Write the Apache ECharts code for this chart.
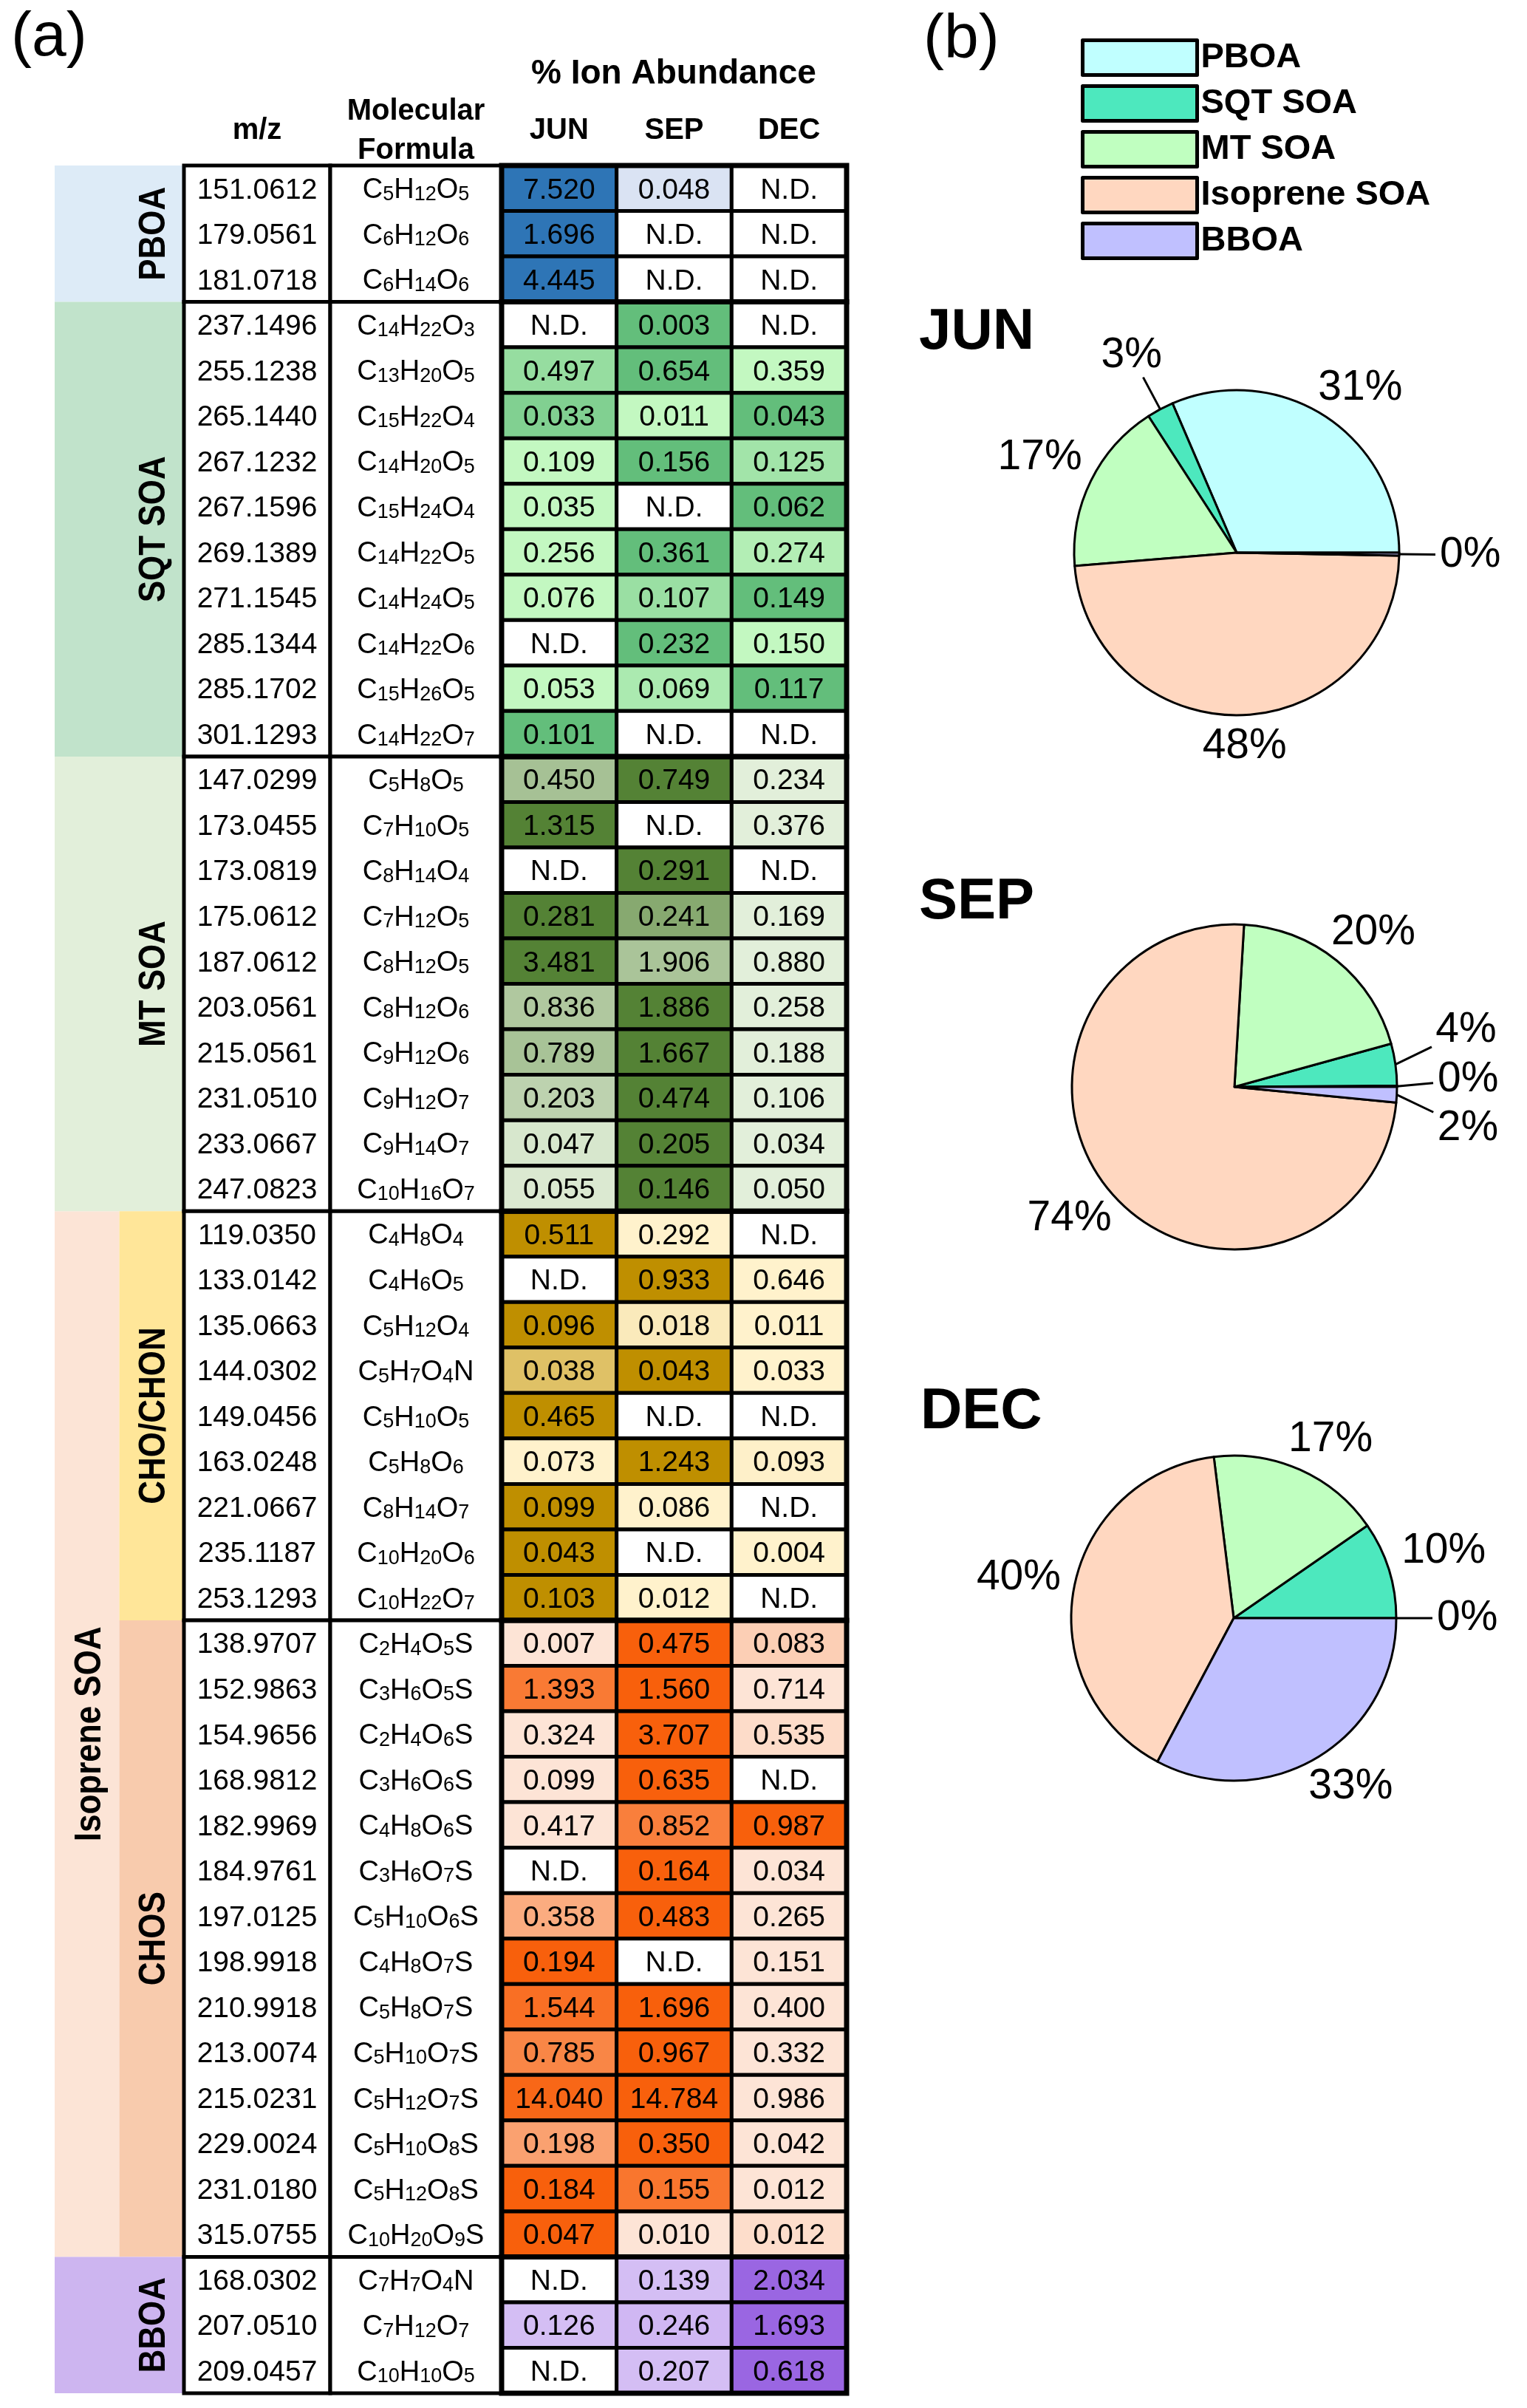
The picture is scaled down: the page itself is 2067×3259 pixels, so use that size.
<!DOCTYPE html>
<html>
<head>
<meta charset="utf-8">
<script src="https://cdn.jsdelivr.net/npm/echarts@6/dist/echarts.min.js"></script>
<style>html,body{margin:0;padding:0;background:#fff}#c{width:2067px;height:3259px}</style>
</head>
<body>
<div id="c"></div>
<script>
const FONT = '"Liberation Sans", Arial, Helvetica, sans-serif';

// ---------------- data ----------------
const groupNames = ['PBOA', 'SQT SOA', 'MT SOA', 'CHO/CHON', 'CHOS', 'BBOA'];
const groupSizes = [3, 10, 10, 9, 14, 3];
const parentName = 'Isoprene SOA';
const parentMembers = ['CHO/CHON', 'CHOS'];
const months = ['JUN', 'SEP', 'DEC'];
const sources = ['PBOA', 'SQT SOA', 'MT SOA', 'Isoprene SOA', 'BBOA'];
const sourceOfGroup = {'PBOA': 'PBOA', 'SQT SOA': 'SQT SOA', 'MT SOA': 'MT SOA', 'CHO/CHON': 'Isoprene SOA', 'CHOS': 'Isoprene SOA', 'BBOA': 'BBOA'};

const mz = [
  '151.0612', '179.0561', '181.0718',
  '237.1496', '255.1238', '265.1440', '267.1232', '267.1596', '269.1389', '271.1545', '285.1344', '285.1702', '301.1293',
  '147.0299', '173.0455', '173.0819', '175.0612', '187.0612', '203.0561', '215.0561', '231.0510', '233.0667', '247.0823',
  '119.0350', '133.0142', '135.0663', '144.0302', '149.0456', '163.0248', '221.0667', '235.1187', '253.1293',
  '138.9707', '152.9863', '154.9656', '168.9812', '182.9969', '184.9761', '197.0125', '198.9918', '210.9918', '213.0074', '215.0231', '229.0024', '231.0180', '315.0755',
  '168.0302', '207.0510', '209.0457'
];
const formula = [
  'C5H12O5', 'C6H12O6', 'C6H14O6',
  'C14H22O3', 'C13H20O5', 'C15H22O4', 'C14H20O5', 'C15H24O4', 'C14H22O5', 'C14H24O5', 'C14H22O6', 'C15H26O5', 'C14H22O7',
  'C5H8O5', 'C7H10O5', 'C8H14O4', 'C7H12O5', 'C8H12O5', 'C8H12O6', 'C9H12O6', 'C9H12O7', 'C9H14O7', 'C10H16O7',
  'C4H8O4', 'C4H6O5', 'C5H12O4', 'C5H7O4N', 'C5H10O5', 'C5H8O6', 'C8H14O7', 'C10H20O6', 'C10H22O7',
  'C2H4O5S', 'C3H6O5S', 'C2H4O6S', 'C3H6O6S', 'C4H8O6S', 'C3H6O7S', 'C5H10O6S', 'C4H8O7S', 'C5H8O7S', 'C5H10O7S', 'C5H12O7S', 'C5H10O8S', 'C5H12O8S', 'C10H20O9S',
  'C7H7O4N', 'C7H12O7', 'C10H10O5'
];
// null = N.D.
const jun = [
  7.520, 1.696, 4.445,
  null, 0.497, 0.033, 0.109, 0.035, 0.256, 0.076, null, 0.053, 0.101,
  0.450, 1.315, null, 0.281, 3.481, 0.836, 0.789, 0.203, 0.047, 0.055,
  0.511, null, 0.096, 0.038, 0.465, 0.073, 0.099, 0.043, 0.103,
  0.007, 1.393, 0.324, 0.099, 0.417, null, 0.358, 0.194, 1.544, 0.785, 14.040, 0.198, 0.184, 0.047,
  null, 0.126, null
];
const sep = [
  0.048, null, null,
  0.003, 0.654, 0.011, 0.156, null, 0.361, 0.107, 0.232, 0.069, null,
  0.749, null, 0.291, 0.241, 1.906, 1.886, 1.667, 0.474, 0.205, 0.146,
  0.292, 0.933, 0.018, 0.043, null, 1.243, 0.086, null, 0.012,
  0.475, 1.560, 3.707, 0.635, 0.852, 0.164, 0.483, null, 1.696, 0.967, 14.784, 0.350, 0.155, 0.010,
  0.139, 0.246, 0.207
];
const dec = [
  null, null, null,
  null, 0.359, 0.043, 0.125, 0.062, 0.274, 0.149, 0.150, 0.117, null,
  0.234, 0.376, null, 0.169, 0.880, 0.258, 0.188, 0.106, 0.034, 0.050,
  null, 0.646, 0.011, 0.033, null, 0.093, null, 0.004, null,
  0.083, 0.714, 0.535, null, 0.987, 0.034, 0.265, 0.151, 0.400, 0.332, 0.986, 0.042, 0.012, 0.012,
  2.034, 1.693, 0.618
];

// ---------------- styles ----------------
const cellScale = {
  'PBOA': ['#dae3f3', '#2e75b6'],
  'SQT SOA': ['#c3f8c1', '#63be7b'],
  'MT SOA': ['#e2efda', '#548235'],
  'CHO/CHON': ['#fff2cc', '#bf8f00'],
  'CHOS': ['#fde4d6', '#f8600c'],
  'BBOA': ['#d4bef4', '#9a66e2']
};
const bandColor = {
  'PBOA': '#ddebf7', 'SQT SOA': '#c1e3cb', 'MT SOA': '#e2efda', 'Isoprene SOA': '#fce4d6',
  'CHO/CHON': '#ffe699', 'CHOS': '#f8cbad', 'BBOA': '#cdb5f0'
};
const pieColors = ['#c0ffff', '#4de8be', '#c0ffc0', '#ffd7c0', '#c0c0ff'];

const TABLE_TOP = 224, TABLE_H = 3015;
const pieCenters = [[1674, 748], [1671, 1471], [1670, 2190]];
const pieRadius = 220;
const PIE_FONT = 57;

// ---------------- derived ----------------
const rowGroup = [];
groupSizes.forEach((n, g) => { for (let k = 0; k < n; k++) rowGroup.push(g); });
const groupRanges = [];
(function () { let a = 0; groupSizes.forEach(n => { groupRanges.push([a, a + n - 1]); a += n; }); })();
const rowIdx = mz.map((_, i) => i);

function hex2rgb(h) { return [1, 3, 5].map(i => parseInt(h.substr(i, 2), 16)); }
function lerpColor(a, b, t) {
  const A = hex2rgb(a), B = hex2rgb(b);
  return 'rgb(' + A.map((v, i) => Math.round(v + (B[i] - v) * t)).join(',') + ')';
}

const cells = [];
rowIdx.forEach(r => {
  const vals = [jun[r], sep[r], dec[r]];
  const pres = vals.filter(v => v != null);
  const mn = Math.min.apply(null, pres), mx = Math.max.apply(null, pres);
  const sc = cellScale[groupNames[rowGroup[r]]];
  vals.forEach((v, c) => {
    cells.push({
      c: c, r: r,
      text: v == null ? 'N.D.' : v.toFixed(3),
      color: v == null ? '#ffffff' : lerpColor(sc[0], sc[1], mx > mn ? (v - mn) / (mx - mn) : 1)
    });
  });
});

const bands = [];
groupNames.forEach((g, i) => {
  const rr = groupRanges[i];
  if (parentMembers.indexOf(g) >= 0) bands.push({c0: 1, c1: 1, r0: rr[0], r1: rr[1], lc: 1, name: g});
  else bands.push({c0: 0, c1: 1, r0: rr[0], r1: rr[1], lc: 1, name: g});
});
(function () {
  const idx = parentMembers.map(m => groupNames.indexOf(m));
  bands.unshift({c0: 0, c1: 0, r0: groupRanges[idx[0]][0], r1: groupRanges[idx[idx.length - 1]][1], lc: 0, name: parentName});
})();

const monthVals = [jun, sep, dec];
const pieTotals = monthVals.map(arr => sources.map(src => {
  let s = 0;
  arr.forEach((v, i) => { if (v != null && sourceOfGroup[groupNames[rowGroup[i]]] === src) s += v; });
  return Math.round(s * 1000) / 1000;
}));

function formulaRich(f) {
  return f.replace(/([A-Z][a-z]?)(\d*)/g, (m, e, n) => '{n|' + e + '}' + (n ? '{s|' + n + '}' : ''));
}

// ---------------- pie label placement ----------------
const mctx = document.createElement('canvas').getContext('2d');
function textWidth(t, size) { mctx.font = size + 'px ' + FONT; return mctx.measureText(t).width; }
function clamp1(v) { return Math.max(-1, Math.min(1, v)); }

function computePieLabels(m) {
  const C = pieCenters[m], R = pieRadius;
  const vals = pieTotals[m];
  const tot = vals.reduce((a, b) => a + b, 0);
  let cum = 0;
  const H = 48, GAP = 24, CGAP = 12, LEAD = 40, LEAD_GAP = 15;
  const labs = vals.map(v => {
    const p = v / tot;
    const th = (cum + p / 2) * 2 * Math.PI;
    cum += p;
    const txt = Math.round(p * 100) + '%';
    const w = textWidth(txt, PIE_FONT);
    const ux = Math.cos(th), uy = -Math.sin(th);
    const ex = C[0] + R * ux, ey = C[1] + R * uy;
    const ext = Math.min(Math.abs(ux) > 1e-6 ? w / 2 / Math.abs(ux) : 1e9, Math.abs(uy) > 1e-6 ? H / 2 / Math.abs(uy) : 1e9);
    const small = p * 100 < 5;
    let x, y;
    if (small) {
      const d = LEAD + LEAD_GAP + ext;
      x = ex + ux * d; y = ey + uy * d;
    } else {
      // blend of "ray meets box edge" and "nearest corner on ray" placements
      const x1 = ex + ux * (GAP + ext), y1 = ey + uy * (GAP + ext);
      const x2 = ex + ux * CGAP + clamp1(ux * 3) * w / 2, y2 = ey + uy * CGAP + clamp1(uy * 3) * H / 2;
      x = (x1 + x2) / 2; y = (y1 + y2) / 2;
    }
    return {x: x, y: y, w: w, h: H, ex: ex, ey: ey, small: small};
  });
  // push overlapping labels apart vertically
  for (let it = 0; it < 60; it++) {
    let moved = false;
    for (let i = 0; i < labs.length; i++) for (let j = i + 1; j < labs.length; j++) {
      const a = labs[i], b = labs[j];
      const need = (a.h + b.h) / 2 + 18;
      if (Math.abs(a.x - b.x) < (a.w + b.w) / 2 && Math.abs(a.y - b.y) < need) {
        const ov = need - Math.abs(a.y - b.y);
        const s = a.y <= b.y ? -1 : 1;
        a.y += s * ov / 2 + s * 0.5; b.y -= s * ov / 2 + s * 0.5;
        moved = true;
      }
    }
    if (!moved) break;
  }
  labs.forEach(l => {
    let vx = l.x - l.ex, vy = l.y - l.ey;
    const len = Math.sqrt(vx * vx + vy * vy) || 1;
    vx /= len; vy /= len;
    const ext2 = Math.min(Math.abs(vx) > 1e-6 ? l.w / 2 / Math.abs(vx) : 1e9, Math.abs(vy) > 1e-6 ? l.h / 2 / Math.abs(vy) : 1e9);
    l.line = [[l.ex, l.ey], [l.x - vx * (ext2 + 6), l.y - vy * (ext2 + 6)]];
  });
  return labs;
}
const pieLabels = months.map((_, m) => computePieLabels(m));

// ---------------- render helpers ----------------
function txtStyle(o) {
  return Object.assign({align: 'center', verticalAlign: 'middle', textAlign: 'center', textVerticalAlign: 'middle', fill: '#000', fontFamily: FONT}, o);
}

function renderBand(params, api) {
  const b = bands[params.dataIndex];
  const sz = api.size([1, 1]);
  const p0 = api.coord([b.c0, b.r0]), p1 = api.coord([b.c1, b.r1]);
  const x0 = p0[0] - sz[0] / 2, y0 = p0[1] - sz[1] / 2, x1 = p1[0] + sz[0] / 2, y1 = p1[1] + sz[1] / 2;
  const tx = api.coord([b.lc, b.r0])[0] + 4;
  return {type: 'group', children: [
    {type: 'rect', shape: {x: x0, y: y0, width: x1 - x0, height: y1 - y0}, style: {fill: bandColor[b.name]}},
    {type: 'text', x: tx, y: (y0 + y1) / 2, rotation: Math.PI / 2, scaleY: 1.15,
      style: txtStyle({text: b.name, x: 0, y: 0, fontSize: 44, fontWeight: 'bold'})}
  ]};
}

function renderFrame(lw, fill) {
  return function (params, api) {
    const rr = groupRanges[params.dataIndex];
    const sz = api.size([1, 1]);
    const cs = params.coordSys;
    const y0 = api.coord([0, rr[0]])[1] - sz[1] / 2, y1 = api.coord([0, rr[1]])[1] + sz[1] / 2;
    return {type: 'rect', shape: {x: cs.x, y: y0, width: cs.width, height: y1 - y0},
      style: {fill: fill, stroke: '#000', lineWidth: lw}};
  };
}

function renderMz(params, api) {
  const i = params.dataIndex;
  const p = api.coord([0, i]);
  return {type: 'text', style: txtStyle({text: mz[i], x: p[0], y: p[1] + 3, fontSize: 39})};
}

function renderFormula(params, api) {
  const i = params.dataIndex;
  const p = api.coord([0, i]);
  return {type: 'text', style: txtStyle({
    text: formulaRich(formula[i]), x: p[0], y: p[1] + 3,
    rich: {
      n: {fontSize: 38, fontFamily: FONT, fill: '#000', verticalAlign: 'bottom'},
      s: {fontSize: 27, fontFamily: FONT, fill: '#000', verticalAlign: 'bottom'}
    }
  })};
}

function renderCell(params, api) {
  const d = cells[params.dataIndex];
  const p = api.coord([d.c, d.r]);
  const sz = api.size([1, 1]);
  return {type: 'group', children: [
    {type: 'rect', shape: {x: p[0] - sz[0] / 2, y: p[1] - sz[1] / 2, width: sz[0], height: sz[1]},
      style: {fill: d.color, stroke: '#000', lineWidth: 5}},
    {type: 'text', style: txtStyle({text: d.text, x: p[0], y: p[1] + 3, fontSize: 39})}
  ]};
}

// ---------------- option ----------------
const headLabel = {fontSize: 40, fontWeight: 'bold', fontFamily: FONT, color: '#000', verticalAlign: 'middle', margin: 47, lineHeight: 53, interval: 0};
const rowAxis = k => ({gridIndex: k, type: 'category', data: rowIdx.map(String), inverse: true, show: false});
const gridBase = {top: TABLE_TOP, height: TABLE_H, containLabel: false, outerBoundsMode: 'none'};

const series = [
  {type: 'custom', name: 'bands', xAxisIndex: 0, yAxisIndex: 0, renderItem: renderBand, z: 1,
    data: bands.map(b => [b.c0, b.r0, b.c1, b.r1]), encode: {x: [0, 2], y: [1, 3]}, silent: true},
  {type: 'custom', name: 'mzFrame', xAxisIndex: 1, yAxisIndex: 1, renderItem: renderFrame(5, '#fff'), z: 1,
    data: groupRanges.map(g => [0, g[0], g[1]]), encode: {x: 0, y: [1, 2]}, silent: true},
  {type: 'custom', name: 'mzText', xAxisIndex: 1, yAxisIndex: 1, renderItem: renderMz, z: 2,
    data: rowIdx.map(i => [0, i]), encode: {x: 0, y: 1}, silent: true},
  {type: 'custom', name: 'fFrame', xAxisIndex: 2, yAxisIndex: 2, renderItem: renderFrame(5, '#fff'), z: 1,
    data: groupRanges.map(g => [0, g[0], g[1]]), encode: {x: 0, y: [1, 2]}, silent: true},
  {type: 'custom', name: 'fText', xAxisIndex: 2, yAxisIndex: 2, renderItem: renderFormula, z: 2,
    data: rowIdx.map(i => [0, i]), encode: {x: 0, y: 1}, silent: true},
  {type: 'custom', name: 'cells', xAxisIndex: 3, yAxisIndex: 3, renderItem: renderCell, z: 1,
    data: cells.map(d => [d.c, d.r]), encode: {x: 0, y: 1}, silent: true},
  {type: 'custom', name: 'vFrame', xAxisIndex: 3, yAxisIndex: 3, renderItem: renderFrame(7, 'rgba(0,0,0,0)'), z: 3,
    data: groupRanges.map(g => [0, g[0], g[1]]), encode: {x: 0, y: [1, 2]}, silent: true}
];

months.forEach((mon, m) => {
  const tot = pieTotals[m].reduce((a, b) => a + b, 0);
  series.push({
    type: 'pie', name: mon, center: pieCenters[m], radius: pieRadius,
    startAngle: 0, clockwise: false, avoidLabelOverlap: false, percentPrecision: 4,
    silent: true, emphasis: {disabled: true, scale: false},
    itemStyle: {borderColor: '#000', borderWidth: 3},
    label: {show: true, position: 'outside', fontSize: PIE_FONT, fontFamily: FONT, color: '#000',
      formatter: p => Math.round(p.value / tot * 100) + '%'},
    labelLine: {show: false, length: 40, length2: 0, smooth: false, lineStyle: {color: '#000', width: 3}},
    labelLayout: params => {
      const l = pieLabels[m][params.dataIndex];
      return {x: l.x, y: l.y, align: 'center', verticalAlign: 'middle', labelLinePoints: l.line};
    },
    data: sources.map((s, i) => ({
      name: s, value: pieTotals[m][i],
      itemStyle: {color: pieColors[i]},
      labelLine: {show: pieTotals[m][i] / tot * 100 < 5}
    }))
  });
});

const tStyle = (t, size, weight, align) => ({text: t, fontSize: size, fontWeight: weight, fontFamily: FONT, fill: '#000',
  align: align, verticalAlign: 'middle', textAlign: align, textVerticalAlign: 'middle'});

const option = {
  animation: false,
  backgroundColor: '#fff',
  color: pieColors,
  grid: [
    Object.assign({left: 74, width: 175}, gridBase),
    Object.assign({left: 249, width: 198}, gridBase),
    Object.assign({left: 447, width: 232}, gridBase),
    Object.assign({left: 679, width: 467}, gridBase)
  ],
  xAxis: [
    {gridIndex: 0, type: 'category', data: ['outer', 'inner'], show: false},
    {gridIndex: 1, type: 'category', data: ['m/z'], position: 'top', axisLine: {show: false}, axisTick: {show: false}, splitLine: {show: false}, axisLabel: headLabel},
    {gridIndex: 2, type: 'category', data: ['Molecular\nFormula'], position: 'top', axisLine: {show: false}, axisTick: {show: false}, splitLine: {show: false}, axisLabel: headLabel},
    {gridIndex: 3, type: 'category', data: months, position: 'top', axisLine: {show: false}, axisTick: {show: false}, splitLine: {show: false}, axisLabel: headLabel}
  ],
  yAxis: [rowAxis(0), rowAxis(1), rowAxis(2), rowAxis(3)],
  legend: {
    orient: 'vertical', left: 1463, top: 52, padding: 0,
    itemWidth: 155, itemHeight: 47, itemGap: 10, selectedMode: false, icon: 'rect',
    data: sources,
    itemStyle: {borderColor: '#000', borderWidth: 5},
    textStyle: {fontSize: 47, fontWeight: 'bold', fontFamily: FONT, color: '#000', lineHeight: 47}
  },
  graphic: {elements: [
    {type: 'text', x: 15, y: 52, style: tStyle('(a)', 84, 'normal', 'left')},
    {type: 'text', x: 1250, y: 55, style: tStyle('(b)', 84, 'normal', 'left')},
    {type: 'text', x: 912, y: 100, style: tStyle('% Ion Abundance', 46, 'bold', 'center')},
    {type: 'text', x: 1244, y: 450, style: tStyle(months[0], 78, 'bold', 'left')},
    {type: 'text', x: 1244, y: 1221, style: tStyle(months[1], 78, 'bold', 'left')},
    {type: 'text', x: 1246, y: 1911, style: tStyle(months[2], 78, 'bold', 'left')}
  ]},
  series: series
};

const chart = echarts.init(document.getElementById('c'), null, {renderer: 'canvas', width: 2067, height: 3259});
chart.setOption(option);
</script>
</body>
</html>
